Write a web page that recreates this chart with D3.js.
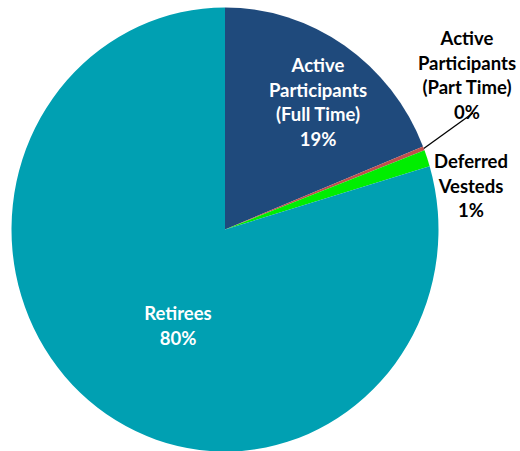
<!DOCTYPE html>
<html>
<head>
<meta charset="utf-8">
<script src="https://cdn.jsdelivr.net/npm/d3@7"></script>
<style>
  body { margin: 0; background: #fff; }
  svg text { font-family: Lato, "Open Sans", sans-serif; font-weight: bold; }
</style>
</head>
<body>
<div id="chart"></div>
<script>
// DATA
const categories = ["Active Participants (Full Time)", "Active Participants (Part Time)", "Deferred Vesteds", "Retirees"];
const values = [18.9, 0.3, 1.2, 79.6];
const pctLabels = ["19%", "0%", "1%", "80%"];
const nameLines = [
  ["Active", "Participants", "(Full Time)"],
  ["Active", "Participants", "(Part Time)"],
  ["Deferred", "Vesteds"],
  ["Retirees"]
];
const colors = ["#1f4a7c", "#c0504d", "#00ee00", "#00a0b2"];

// LAYOUT
const width = 520, height = 451;
const cx = 225, cy = 229.5, R = 213.5, squash = 1.04;
// label anchors (x, first line y) per slice
const labelAt = [
  { x: 318, y: 72, fill: "#fff" },
  { x: 467, y: 45, fill: "#000" },
  { x: 471, y: 168, fill: "#000" },
  { x: 178, y: 320, fill: "#fff" }
];
const lineH = 24.5;

const svg = d3.select("#chart").append("svg")
  .attr("width", width)
  .attr("height", height);

const pie = d3.pie().sort(null).value(d => d);
const arcs = pie(values);
const arc = d3.arc().innerRadius(0).outerRadius(R);

const g = svg.append("g")
  .attr("transform", `translate(${cx},${cy}) scale(1,${squash})`);

g.selectAll("path")
  .data(arcs)
  .enter()
  .append("path")
  .attr("d", arc)
  .attr("fill", (d, i) => colors[i]);

// leader line for the part-time slice
const pt = arcs[1];
const mid = (pt.startAngle + pt.endAngle) / 2;
svg.append("line")
  .attr("x1", cx + Math.sin(mid) * R)
  .attr("y1", cy - Math.cos(mid) * R * squash)
  .attr("x2", 473)
  .attr("y2", 113)
  .attr("stroke", "#000")
  .attr("stroke-width", 1.3);

// LABELS
const labels = svg.append("g")
  .selectAll("text")
  .data(arcs)
  .enter()
  .append("text")
  .attr("text-anchor", "middle")
  .attr("font-size", "18.5px")
  .attr("fill", (d, i) => labelAt[i].fill);

labels.each(function(d, i) {
  const t = d3.select(this);
  const lines = nameLines[i].concat([pctLabels[i]]);
  lines.forEach((s, k) => {
    t.append("tspan")
      .attr("x", labelAt[i].x)
      .attr("y", labelAt[i].y + k * lineH)
      .text(s);
  });
});
</script>
</body>
</html>
